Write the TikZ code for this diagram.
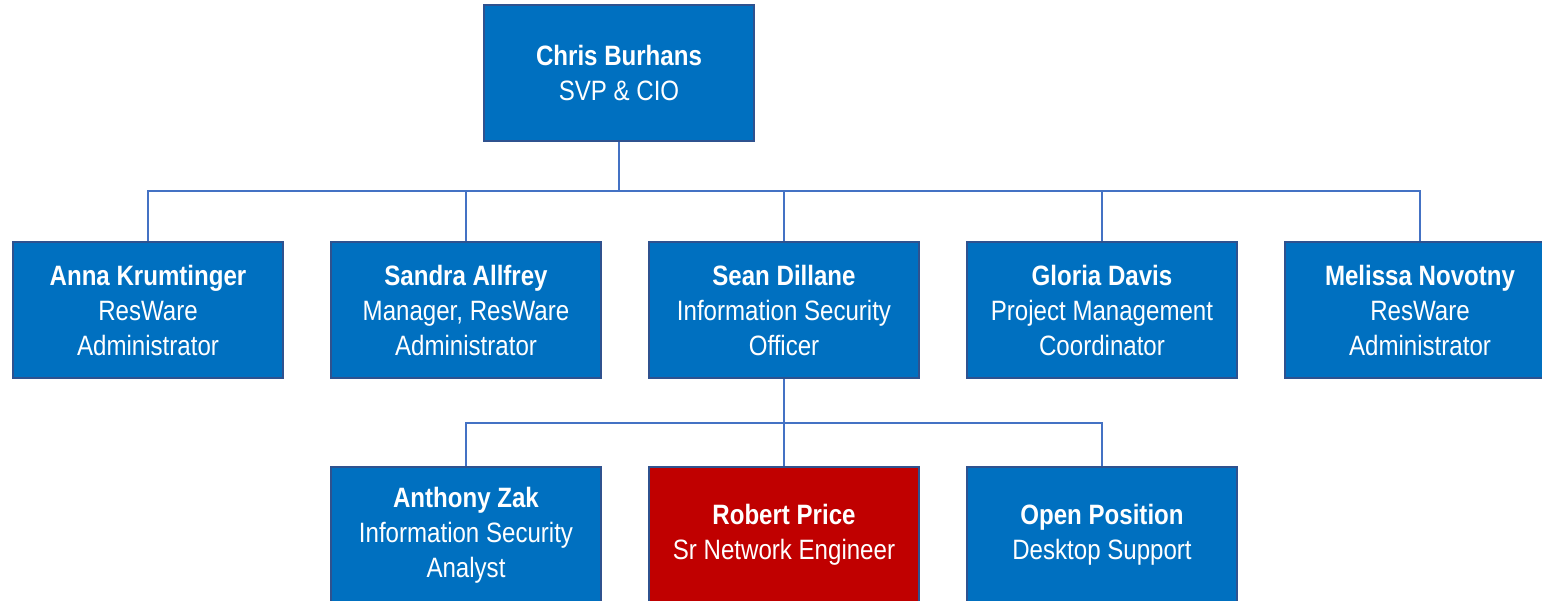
\documentclass[tikz,border=0pt]{standalone}
\usepackage{fontspec}
\setmainfont{Liberation Sans}[FakeStretch=0.86]
\usepackage{tikz}
\usetikzlibrary{positioning, calc}
\definecolor{boxblue}{HTML}{0070C0}
\definecolor{boxedge}{HTML}{2F528F}
\definecolor{boxred}{HTML}{C00000}
\definecolor{linkblue}{HTML}{4472C4}
\tikzset{staff/.style={shape=rectangle, draw=boxedge, fill=boxblue, line width=1.5pt,
    text=white, align=center, minimum width=202.5pt, minimum height=102pt,
    inner sep=0pt, font=\fontsize{21}{26.25}\selectfont}}
\tikzset{focus/.style={staff, fill=boxred}}
\tikzset{link/.style={draw=linkblue, line width=1.1pt}}

\begin{document}
\begin{tikzpicture}[x=.75pt,y=-.75pt]
    \useasboundingbox (0,0) rectangle (1542,600);
    \node[staff] (chris) at (619,73) {\textbf{Chris Burhans}\\SVP \& CIO};
    \node[staff] (anna) at (148,310) {\textbf{Anna Krumtinger}\\ResWare\\Administrator};
    \node[staff] (sandra) at (466,310) {\textbf{Sandra Allfrey}\\Manager, ResWare\\Administrator};
    \node[staff] (sean) at (784,310) {\textbf{Sean Dillane}\\Information Security\\Officer};
    \node[staff] (gloria) at (1102,310) {\textbf{Gloria Davis}\\Project Management\\Coordinator};
    \node[staff] (melissa) at (1420,310) {\textbf{Melissa Novotny}\\ResWare\\Administrator};
    \node[staff] (anthony) at (466,535) {\textbf{Anthony Zak}\\Information Security\\Analyst};
    \node[focus] (robert) at (784,535) {\textbf{Robert Price}\\Sr Network Engineer};
    \node[staff] (open) at (1102,535) {\textbf{Open Position}\\Desktop Support};
    % reporting lines
    \coordinate (bus1) at (619,191);
    \coordinate (bus2) at (784,423);
    \path[link] (chris.south) -- (bus1);
    \path[link] (bus1) -| (anna.north);
    \path[link] (bus1) -| (sandra.north);
    \path[link] (bus1) -| (sean.north);
    \path[link] (bus1) -| (gloria.north);
    \path[link] (bus1) -| (melissa.north);
    \path[link] (sean.south) -- (bus2);
    \path[link] (bus2) -| (anthony.north);
    \path[link] (bus2) -| (robert.north);
    \path[link] (bus2) -| (open.north);
\end{tikzpicture}
\end{document}
